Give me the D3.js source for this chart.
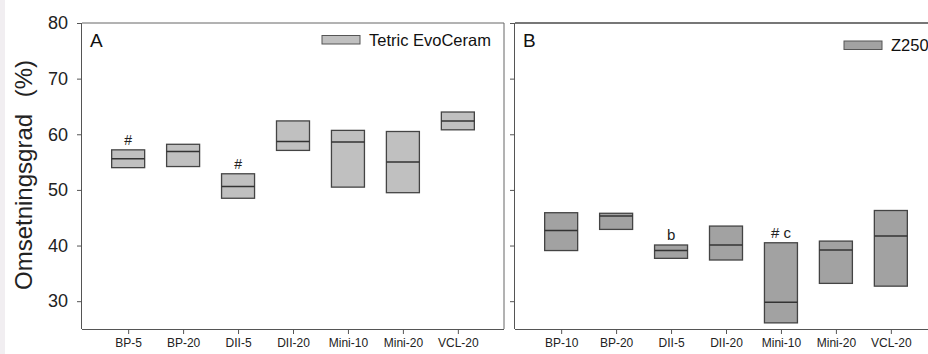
<!DOCTYPE html>
<html>
<head>
<meta charset="utf-8">
<script src="https://cdn.jsdelivr.net/npm/d3@7"></script>
<style>
  body { margin: 0; background: #fff; }
  svg { display: block; font-family: "Liberation Sans", Arial, sans-serif; }
</style>
</head>
<body>
<script>
// data (min / median / max of each box)
const catsA = ["BP-5", "BP-20", "DII-5", "DII-20", "Mini-10", "Mini-20", "VCL-20"];
const lowA = [54.0, 54.2, 48.5, 57.1, 50.5, 49.5, 60.8];
const medA = [55.6, 56.9, 50.6, 58.7, 58.6, 55.0, 62.4];
const highA = [57.2, 58.2, 52.9, 62.4, 60.7, 60.5, 64.0];
const noteA = ["#", "", "#", "", "", "", ""];

const catsB = ["BP-10", "BP-20", "DII-5", "DII-20", "Mini-10", "Mini-20", "VCL-20"];
const lowB = [39.1, 42.9, 37.7, 37.4, 26.1, 33.2, 32.7];
const medB = [42.7, 45.3, 39.1, 40.1, 29.8, 39.2, 41.7];
const highB = [45.9, 45.8, 40.1, 43.5, 40.5, 40.8, 46.3];
const noteB = ["", "", "b", "", "# c", "", ""];

const yTicks = [30, 40, 50, 60, 70, 80];

const w = 928, h = 354;
const plotTop = 23, plotBottom = 329;

const svg = d3.select("body").append("svg")
  .attr("width", w)
  .attr("height", h);

// faint strip on the left edge of the scan
svg.append("rect").attr("x", 0).attr("y", 0).attr("width", 5).attr("height", h).attr("fill", "#f1eef1");

const y = d3.scaleLinear().domain([25, 80]).range([plotBottom, plotTop]);

function panel(opts) {
  const g = svg.append("g");
  const x = d3.scalePoint().domain(opts.cats).range([opts.left, opts.right]).padding(0.84);
  const boxW = 33;

  // frame
  g.append("line").attr("x1", opts.left).attr("x2", opts.frameRight).attr("y1", plotTop).attr("y2", plotTop)
    .attr("stroke", opts.topColor).attr("stroke-width", opts.topWidth);
  if (opts.drawRight) {
    g.append("line").attr("x1", opts.right).attr("x2", opts.right).attr("y1", plotTop).attr("y2", plotBottom)
      .attr("stroke", "#666").attr("stroke-width", 1);
  }

  const ya = g.append("g").attr("transform", `translate(${opts.left},0)`)
    .call(d3.axisLeft(y).tickValues(yTicks).tickSize(5).tickFormat(opts.yLabels ? d3.format("d") : ""));
  ya.select(".domain").attr("stroke", "#555").attr("d", `M-0.5,${plotTop}V${plotBottom}`);
  ya.selectAll(".tick line").attr("stroke", "#555");
  ya.selectAll(".tick text").attr("font-size", 18).attr("fill", "#222").attr("x", -14);

  const xa = g.append("g").attr("transform", `translate(0,${plotBottom})`)
    .call(d3.axisBottom(x).tickSize(5).tickSizeOuter(0));
  xa.select(".domain").attr("stroke", "#555").attr("d", `M${opts.left},0.5H${opts.right}`);
  xa.selectAll(".tick line").attr("stroke", "#555");
  xa.selectAll(".tick text").attr("font-size", 12).attr("fill", "#222").attr("y", 9);

  const idx = d3.range(opts.cats.length);
  const boxes = g.selectAll(".box").data(idx).enter().append("g");
  boxes.append("rect")
    .attr("x", i => x(opts.cats[i]) - boxW / 2)
    .attr("y", i => y(opts.high[i]))
    .attr("width", boxW)
    .attr("height", i => y(opts.low[i]) - y(opts.high[i]))
    .attr("fill", opts.fill)
    .attr("stroke", "#444")
    .attr("stroke-width", 1.3);
  boxes.append("line")
    .attr("x1", i => x(opts.cats[i]) - boxW / 2)
    .attr("x2", i => x(opts.cats[i]) + boxW / 2)
    .attr("y1", i => y(opts.med[i]))
    .attr("y2", i => y(opts.med[i]))
    .attr("stroke", "#333")
    .attr("stroke-width", 1.5);
  boxes.append("text")
    .attr("x", i => x(opts.cats[i]))
    .attr("y", i => y(opts.high[i]) - 5)
    .attr("text-anchor", "middle")
    .attr("font-size", opts.noteSize)
    .attr("fill", "#222")
    .text(i => opts.notes[i]);

  // panel letter
  g.append("text").attr("x", opts.left + 8).attr("y", 47).attr("font-size", 19).attr("fill", "#111").text(opts.letter);

  // legend
  g.append("rect").attr("x", opts.legX).attr("y", opts.legY).attr("width", 38).attr("height", 8.5)
    .attr("fill", opts.fill).attr("stroke", "#555").attr("stroke-width", 1);
  g.append("text").attr("x", opts.legX + 47).attr("y", opts.legY + 10)
    .attr("font-size", 16.5).attr("fill", "#111").text(opts.legend);
}

panel({
  cats: catsA, low: lowA, med: medA, high: highA, notes: noteA,
  left: 82, right: 504, frameRight: 504, drawRight: true,
  topColor: "#666", topWidth: 1,
  yLabels: true, fill: "#c0c0c0", letter: "A", noteSize: 14,
  legend: "Tetric EvoCeram", legX: 322, legY: 35.5
});

panel({
  cats: catsB, low: lowB, med: medB, high: highB, notes: noteB,
  left: 515, right: 937, frameRight: 928, drawRight: false,
  topColor: "#777", topWidth: 2,
  yLabels: false, fill: "#a2a2a2", letter: "B", noteSize: 15,
  legend: "Z250", legX: 844, legY: 41
});

// y axis title, two pieces with a wide gap
svg.append("text")
  .attr("transform", "translate(32,290) rotate(-90)")
  .attr("text-anchor", "start")
  .attr("font-size", 24)
  .attr("fill", "#222")
  .text("Omsetningsgrad");
svg.append("text")
  .attr("transform", "translate(32,60) rotate(-90)")
  .attr("text-anchor", "end")
  .attr("font-size", 24)
  .attr("fill", "#222")
  .text("(%)");
</script>
</body>
</html>
